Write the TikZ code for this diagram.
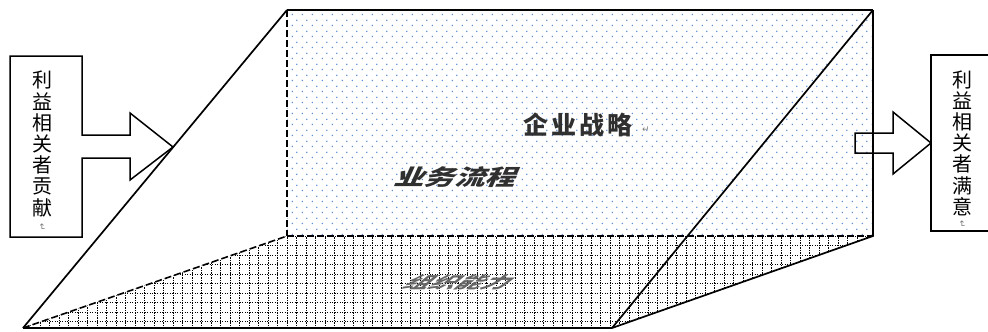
\documentclass[tikz,border=0pt]{standalone}
\usepackage{fontspec}
\newfontfamily\cjk{Noto Sans CJK SC}
\newfontfamily\dejavu{DejaVu Sans}
\usetikzlibrary{patterns}
\pgfdeclarepatternformonly{bluedots}{\pgfpointorigin}{\pgfpoint{10pt}{10.6pt}}{\pgfpoint{10pt}{10.6pt}}{%
  \pgfpathcircle{\pgfpoint{2.5pt}{2.65pt}}{0.85pt}%
  \pgfpathcircle{\pgfpoint{7.5pt}{7.95pt}}{0.85pt}%
  \pgfusepath{fill}}
\definecolor{dotblue}{HTML}{5F8FD6}
\definecolor{darktext}{HTML}{303030}
\definecolor{markgray}{HTML}{7A7A7A}
\tikzset{
  solidedge/.style={line width=1.7pt, black, line join=miter},
  dashedge/.style={line width=1.6pt, black, dash pattern=on 7pt off 3pt},
  gridline/.style={line width=0.8pt, black, dash pattern=on 1.4pt off 1.1pt},
  boxline/.style={line width=1.5pt, black, line join=miter},
  vtext/.style={font=\cjk\fontsize{20}{21.2}\selectfont, align=center, inner sep=0pt},
  pmark/.style={font=\dejavu\fontsize{9}{9}\selectfont, text=markgray, inner sep=0pt},
}
\begin{document}
\begin{tikzpicture}[x=1pt,y=-1pt]
\useasboundingbox (0,0) rectangle (988,332);
\clip (0,0) rectangle (988,332);
% corner points
\coordinate (TL) at (287,10);
\coordinate (TR) at (873,10);
\coordinate (ML) at (287,236);
\coordinate (MR) at (873,236);
\coordinate (BL) at (23,328);
\coordinate (BR) at (612,328);
% fills
\fill[pattern=bluedots, pattern color=dotblue] (TL) rectangle (MR);
\begin{scope}
  \clip (BL) -- (ML) -- (MR) -- (BR) -- cycle;
  \draw[gridline, shift={(287,236)}] (-280,-2) grid[step=9.5pt] (600,100);
\end{scope}
% edges
\draw[dashedge] (TL) -- (ML);
\draw[dashedge] (ML) -- (MR);
\draw[dashedge] (BL) -- (ML);
\draw[solidedge] (BL) -- (TL);
\draw[line width=2.2pt] (TL) -- (TR);
\draw[solidedge] (TR) -- (MR) -- (BR);
\draw[solidedge] (BR) -- (TR);
\draw[solidedge] (BL) -- (BR);
% texts on the prism
\node[font=\cjk\bfseries\fontsize{25}{25}\selectfont, text=darktext, inner sep=0pt] (strategy) at (578,125)
  {企\hspace{3pt}业\hspace{3pt}战\hspace{3pt}略};
\node[pmark] (m3) at (646,130) {↵};
\node[font=\cjk\bfseries\fontsize{22}{22}\selectfont, text=darktext, inner sep=0pt, xslant=0.45, xscale=1.38] (process) at (458,177) {业务流程};
\node[font=\cjk\bfseries\fontsize{20}{20}\selectfont, text=black!60, inner sep=0pt, xslant=1.2, yscale=0.8, xscale=1.3] (capability) at (460,282) {组织能力};
% left box with arrow
\filldraw[boxline, fill=white] (10,56) -- (82,56) -- (82,135) -- (130,135) -- (130,113) -- (173,147)
  -- (130,180) -- (130,158) -- (82,158) -- (82,237) -- (10,237) -- cycle;
\node[vtext] (left) at (42,144) {利\\益\\相\\关\\者\\贡\\献};
\node[pmark, rotate=-90] (m1) at (42,227) {↵};
% right arrow and box
\draw[boxline] (855,133) -- (893,133) -- (893,112) -- (931,143) -- (893,174) -- (893,153) -- (855,153) -- cycle;
\filldraw[boxline, fill=white] (1000,55) -- (931,55) -- (931,231) -- (1000,231);
\node[vtext] (right) at (962,143) {利\\益\\相\\关\\者\\满\\意};
\node[pmark, rotate=-90] (m2) at (962,224) {↵};
\end{tikzpicture}
\end{document}
